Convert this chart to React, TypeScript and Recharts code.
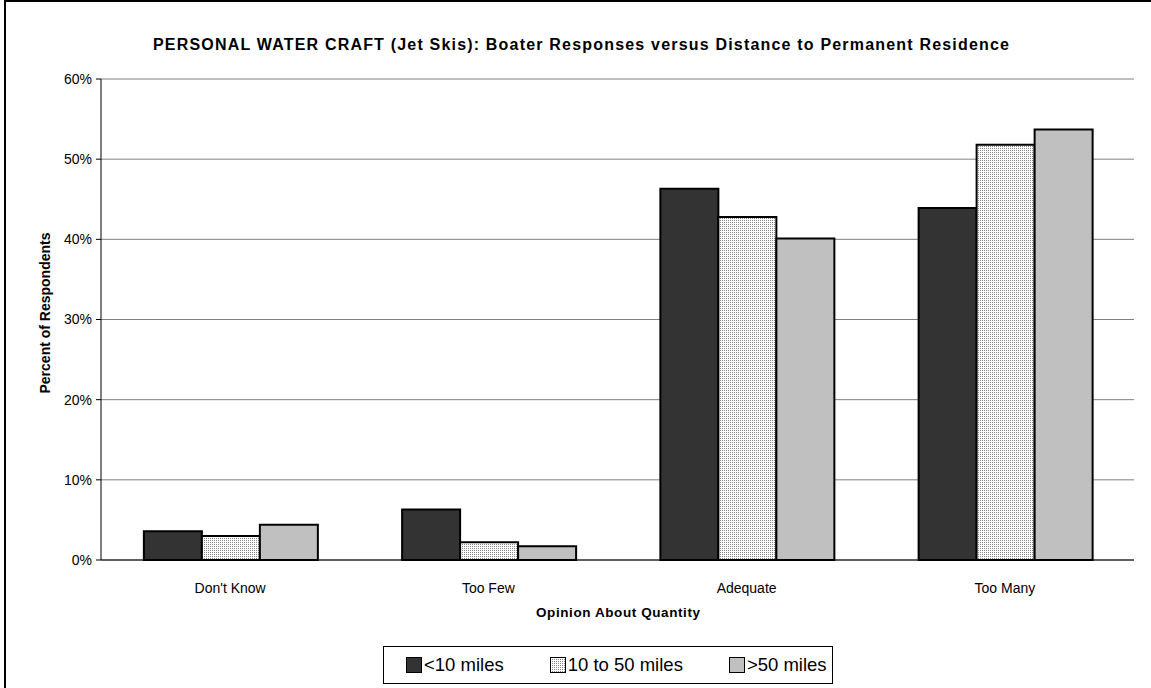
import React from "react"
import { Bar, BarChart, CartesianGrid, Legend, XAxis, YAxis } from "recharts"

const categories = ["Don't Know", "Too Few", "Adequate", "Too Many"]
const under10 = [3.6, 6.3, 46.3, 43.9]
const tenTo50 = [3.0, 2.2, 42.8, 51.8]
const over50 = [4.4, 1.7, 40.1, 53.7]
const yTicks = [0, 10, 20, 30, 40, 50, 60]
const boundaryTicks = [0, 1, 2, 3, 4]

const series = [
  { key: "under10", name: "<10 miles", fill: "#333333" },
  { key: "tenTo50", name: "10 to 50 miles", fill: "url(#dots)" },
  { key: "over50", name: ">50 miles", fill: "#c0c0c0" },
]

const data = categories.map((name, i) => ({
  name,
  under10: under10[i],
  tenTo50: tenTo50[i],
  over50: over50[i],
}))

const font = "'Liberation Sans', Arial, sans-serif"

function LegendBox() {
  return (
    <div
      style={{
        boxSizing: "border-box",
        width: 450,
        height: 38,
        border: "1px solid #000",
        background: "#fff",
        display: "flex",
        alignItems: "center",
        paddingLeft: 22,
        gap: 46,
        fontFamily: font,
        fontSize: 18.5,
        color: "#000",
      }}
    >
      {series.map((s) => (
        <div key={s.key} style={{ display: "flex", alignItems: "center" }}>
          <svg width={16} height={16} style={{ marginRight: 2 }}>
            <defs>
              <pattern id={"lg" + s.key} width="2" height="2" patternUnits="userSpaceOnUse">
                <rect width="2" height="2" fill="#fff" />
                <rect width="1" height="1" fill="#8a8a8a" />
              </pattern>
            </defs>
            <rect x={0.5} y={0.5} width={15} height={15} fill={s.key === "tenTo50" ? "url(#lg" + s.key + ")" : s.fill} stroke="#000" />
          </svg>
          <span>{s.name}</span>
        </div>
      ))}
    </div>
  )
}

export default function App() {
  return (
    <div style={{ position: "absolute", left: 0, top: 0, width: 1151, height: 688, background: "#fff" }}>
      <div
        style={{
          position: "absolute",
          left: 4,
          top: 0,
          right: 0,
          bottom: 0,
          borderLeft: "2px solid #000",
          borderTop: "2px solid #000",
        }}
      />
      <div style={{ position: "absolute", left: 0, top: 0 }}>
        <BarChart
          width={1151}
          height={688}
          data={data}
          margin={{ top: 79, right: 17, left: 0, bottom: 0 }}
          barCategoryGap="16.6%"
          barGap={0}
          style={{ fontFamily: font }}
        >
          <defs>
            <pattern id="dots" width="2" height="2" patternUnits="userSpaceOnUse">
              <rect width="2" height="2" fill="#fff" />
              <rect width="1" height="1" fill="#8a8a8a" />
            </pattern>
          </defs>
          <text
            x={581}
            y={50}
            textAnchor="middle"
            fontWeight="bold"
            fontSize={16}
            textLength={856}
            lengthAdjust="spacing"
            fill="#000"
          >
            PERSONAL WATER CRAFT (Jet Skis):  Boater Responses versus Distance to Permanent Residence
          </text>
          <text
            transform="translate(50, 313) rotate(-90)"
            textAnchor="middle"
            fontWeight="bold"
            fontSize={14}
            fill="#000"
          >
            Percent of Respondents
          </text>
          <text
            x={618}
            y={617}
            textAnchor="middle"
            fontWeight="bold"
            fontSize={13.5}
            textLength={164}
            lengthAdjust="spacing"
            fill="#000"
          >
            Opinion About Quantity
          </text>
          <CartesianGrid vertical={false} stroke="#808080" />
          <XAxis
            xAxisId="edges"
            type="number"
            domain={[0, 4]}
            ticks={boundaryTicks}
            height={0}
            axisLine={false}
            tickLine={{ stroke: "#000" }}
            tickSize={5}
            tick={() => <g />}
          />
          <XAxis
            dataKey="name"
            height={128}
            axisLine={{ stroke: "#000" }}
            tickLine={false}
            tickMargin={17}
            tick={{ fill: "#000", fontSize: 14 }}
          />
          <YAxis
            width={101}
            domain={[0, 60]}
            ticks={yTicks}
            tickFormatter={(v) => `${v}%`}
            axisLine={{ stroke: "#000" }}
            tickLine={{ stroke: "#000" }}
            tickSize={5}
            tickMargin={4}
            tick={{ fill: "#000", fontSize: 14 }}
          />
          <YAxis
            yAxisId="frame"
            orientation="right"
            width={0}
            domain={[0, 60]}
            tick={false}
            axisLine={{ stroke: "#808080" }}
          />
          <Legend
            layout="horizontal"
            verticalAlign="middle"
            align="center"
            wrapperStyle={{ left: 383, top: 646, width: 450, height: 38 }}
            content={() => <LegendBox />}
          />
          {series.map((s) => (
            <Bar
              key={s.key}
              dataKey={s.key}
              name={s.name}
              fill={s.fill}
              stroke="#000"
              strokeWidth={2}
              isAnimationActive={false}
            />
          ))}
        </BarChart>
      </div>
    </div>
  )
}
